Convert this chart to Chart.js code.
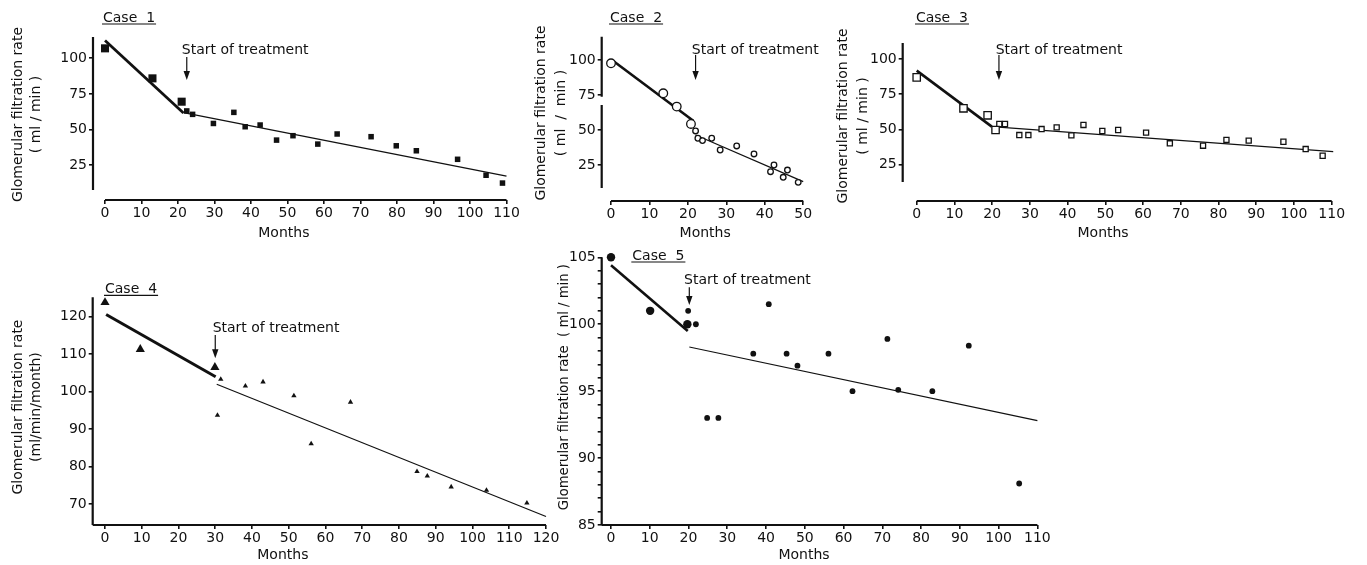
<!DOCTYPE html>
<html>
<head>
<meta charset="utf-8">
<script src="https://cdn.jsdelivr.net/npm/chart.js@4.4.1/dist/chart.umd.min.js"></script>
<style>
  html, body { margin: 0; padding: 0; background: #fff; }
  body { width: 1367px; height: 565px; position: relative; overflow: hidden; }
  canvas { position: absolute; }
</style>
</head>
<body>
<canvas id="case1"></canvas>
<canvas id="case2"></canvas>
<canvas id="case3"></canvas>
<canvas id="case4"></canvas>
<canvas id="case5"></canvas>
<script>
const ink = '#111111';
Chart.defaults.font.family = '"DejaVu Sans", sans-serif';
Chart.defaults.font.size = 14;
Chart.defaults.color = ink;

// ---- Case 1 ----
const case1PreMonths = [0, 13.0, 21.0];
const case1PreGfr = [107, 85.9, 69.5];
const case1PostMonths = [22.4, 24.0, 29.7, 35.3, 38.4, 42.5, 47.0, 51.5, 58.3, 63.6, 72.9, 79.8, 85.3, 96.6, 104.4, 108.9];
const case1PostGfr = [63.0, 60.6, 54.2, 62.0, 51.9, 53.1, 42.5, 45.6, 39.7, 46.8, 44.9, 38.5, 35.0, 29.0, 17.8, 12.3];
const case1TrendPreMonths = [0, 21.5];
const case1TrendPreGfr = [112.5, 61.5];
const case1TrendPostMonths = [21.5, 110];
const case1TrendPostGfr = [61.8, 17.2];

// ---- Case 2 ----
const case2PreMonths = [0, 13.6, 17.1, 20.8];
const case2PreGfr = [97.6, 76.2, 66.7, 54.3];
const case2PostMonths = [22.0, 22.6, 23.8, 26.2, 28.4, 32.7, 37.2, 41.5, 42.4, 44.8, 45.9, 48.7];
const case2PostGfr = [49.3, 44.1, 42.4, 44.1, 35.7, 38.6, 32.9, 20.2, 25.0, 16.2, 21.4, 12.6];
const case2TrendPreMonths = [0.6, 21.4];
const case2TrendPreGfr = [99.3, 56.6];
const case2TrendPostMonths = [22.0, 50];
const case2TrendPostGfr = [46.4, 13.1];

// ---- Case 3 ----
const case3PreMonths = [0, 12.4, 18.8, 20.9];
const case3PreGfr = [87.1, 65.0, 60.0, 49.5];
const case3PostMonths = [21.9, 23.4, 27.2, 29.6, 33.1, 37.1, 41.0, 44.2, 49.2, 53.4, 60.8, 67.1, 75.9, 82.1, 88.0, 97.2, 103.1, 107.6];
const case3PostGfr = [53.8, 53.8, 45.9, 45.9, 50.2, 51.4, 45.7, 53.1, 48.8, 49.5, 47.6, 40.0, 38.3, 42.4, 41.9, 41.1, 35.9, 31.1];
const case3TrendPreMonths = [0, 19.9];
const case3TrendPreGfr = [91.9, 51.9];
const case3TrendPostMonths = [19.9, 110.4];
const case3TrendPostGfr = [51.9, 34.0];

// ---- Case 4 ----
const case4PreMonths = [0, 9.6, 29.9];
const case4PreGfr = [123.8, 111.3, 106.5];
const case4PostMonths = [31.5, 30.6, 38.2, 43.0, 51.4, 56.1, 66.8, 84.9, 87.7, 94.2, 103.8, 114.8];
const case4PostGfr = [103.3, 93.7, 101.5, 102.6, 98.9, 86.1, 97.2, 78.7, 77.5, 74.6, 73.7, 70.3];
const case4TrendPreMonths = [0.3, 30.1];
const case4TrendPreGfr = [120.6, 104.0];
const case4TrendPostMonths = [30.4, 120];
const case4TrendPostGfr = [102.0, 66.7];

// ---- Case 5 ----
const case5PreMonths = [0, 10.1, 19.7];
const case5PreGfr = [105, 101, 100];
const case5PostMonths = [19.9, 21.9, 24.8, 27.7, 36.7, 40.7, 45.3, 48.1, 56.1, 62.3, 71.3, 74.1, 82.9, 92.3, 105.3];
const case5PostGfr = [101, 100, 93, 93, 97.8, 101.5, 97.8, 96.9, 97.8, 95, 98.9, 95.1, 95, 98.4, 88.1];
const case5TrendPreMonths = [0, 19.8];
const case5TrendPreGfr = [104.4, 99.5];
const case5TrendPostMonths = [20.2, 110];
const case5TrendPostGfr = [98.3, 92.8];

// ---- ticks ----
const monthTicks110 = [0, 10, 20, 30, 40, 50, 60, 70, 80, 90, 100, 110];
const monthTicks50 = [0, 10, 20, 30, 40, 50];
const monthTicks120 = [0, 10, 20, 30, 40, 50, 60, 70, 80, 90, 100, 110, 120];
const gfrTicks25 = [25, 50, 75, 100];
const gfrTicks4 = [70, 80, 90, 100, 110, 120];
const gfrTicks5 = [85, 86, 87, 88, 89, 90, 91, 92, 93, 94, 95, 96, 97, 98, 99, 100, 101, 102, 103, 104, 105];
const gfrLabels5 = [85, 90, 95, 100, 105];

function pts(xs, ys) { return xs.map((x, i) => ({ x: x, y: ys[i] })); }

function marks(xs, ys, style, r, hollow) {
  return {
    data: pts(xs, ys), pointStyle: style, pointRadius: r,
    backgroundColor: hollow ? '#ffffff' : ink, borderColor: ink,
    borderWidth: hollow ? 1.3 : 0, clip: false
  };
}
function trend(xs, ys, w) {
  return { data: pts(xs, ys), showLine: true, pointRadius: 0, borderColor: ink, borderWidth: w, clip: false };
}

// axis lines, case label, treatment arrow and axis titles
function makeDeco(n) {
  return {
    id: 'deco',
    afterDraw(chart) {
      const { ctx, chartArea: a, scales: { x, y } } = chart;
      ctx.save();
      ctx.strokeStyle = ink;
      ctx.fillStyle = ink;
      ctx.lineWidth = 2.2;
      ctx.beginPath();
      ctx.moveTo(x.getPixelForValue(n.xAxis[0]), a.bottom);
      ctx.lineTo(x.getPixelForValue(n.xAxis[1]), a.bottom);
      n.yAxis.forEach(s => {
        ctx.moveTo(a.left, y.getPixelForValue(s[0]));
        ctx.lineTo(a.left, y.getPixelForValue(s[1]));
      });
      ctx.stroke();

      ctx.font = '14px "DejaVu Sans", sans-serif';
      ctx.textBaseline = 'middle';
      // case label
      const cx = x.getPixelForValue(n.caseX), cy = a.top + n.caseDy;
      ctx.textAlign = 'left';
      ctx.fillText(n.caseText, cx, cy);
      const cw = ctx.measureText(n.caseText).width;
      ctx.lineWidth = 1.2;
      ctx.beginPath();
      ctx.moveTo(cx - 1, cy + 6);
      ctx.lineTo(cx + cw + 1, cy + 6);
      ctx.stroke();

      // start of treatment
      const tx = x.getPixelForValue(n.treatX);
      ctx.fillText('Start of treatment', tx - n.textDx, y.getPixelForValue(n.treatTextY));
      const ay0 = y.getPixelForValue(n.arrow[0]), ay1 = y.getPixelForValue(n.arrow[1]);
      ctx.beginPath();
      ctx.moveTo(tx, ay0);
      ctx.lineTo(tx, ay1 - 6);
      ctx.stroke();
      ctx.beginPath();
      ctx.moveTo(tx - 3.2, ay1 - 9);
      ctx.lineTo(tx + 3.2, ay1 - 9);
      ctx.lineTo(tx, ay1);
      ctx.closePath();
      ctx.fill();

      // x title
      ctx.textAlign = 'center';
      ctx.fillText('Months', x.getPixelForValue(n.monthsX), a.bottom + n.monthsDy);

      // y title
      ctx.font = (n.yTitleSize || 14) + 'px "DejaVu Sans", sans-serif';
      const yc = y.getPixelForValue(n.yTitleAt);
      n.yTitle.forEach((t, i) => {
        ctx.save();
        ctx.translate(a.left - n.yTitleDx[i], yc);
        ctx.rotate(-Math.PI / 2);
        ctx.fillText(t, 0, 0);
        ctx.restore();
      });
      ctx.restore();
    }
  };
}

function panel(id, box, area, xRange, yRange, xTicks, yTicks, yLabels, datasets, notes) {
  const cv = document.getElementById(id);
  cv.width = box.w;
  cv.height = box.h;
  cv.style.left = box.x + 'px';
  cv.style.top = box.y + 'px';
  const yW = area.L - box.x;
  const xH = box.y + box.h - area.B;
  const gridOpts = { drawOnChartArea: false, drawTicks: true, tickLength: 4, lineWidth: 1.6, color: ink };
  new Chart(cv, {
    type: 'scatter',
    data: { datasets: datasets },
    options: {
      responsive: false,
      animation: false,
      events: [],
      layout: { padding: { left: 0, top: area.T - box.y, right: box.x + box.w - area.R, bottom: 0 } },
      plugins: { legend: { display: false }, tooltip: { enabled: false } },
      scales: {
        x: {
          type: 'linear', min: xRange[0], max: xRange[1],
          afterFit: s => { s.height = xH; },
          afterBuildTicks: s => { s.ticks = xTicks.map(v => ({ value: v })); },
          ticks: { autoSkip: false, maxRotation: 0, padding: 1 },
          grid: gridOpts,
          border: { display: false }
        },
        y: {
          type: 'linear', min: yRange[0], max: yRange[1],
          afterFit: s => { s.width = yW; },
          afterBuildTicks: s => { s.ticks = yTicks.map(v => ({ value: v })); },
          ticks: {
            autoSkip: false, padding: 2,
            callback: v => (yLabels.includes(v) ? String(v) : '')
          },
          grid: gridOpts,
          border: { display: false }
        }
      }
    },
    plugins: [makeDeco(notes)]
  });
}

panel('case1',
  { x: 0, y: 0, w: 532, h: 245 }, { L: 93, T: 37, R: 506.5, B: 200 },
  [-3.29, 110], [0.4, 114.97], monthTicks110, gfrTicks25, gfrTicks25,
  [
    marks(case1PreMonths, case1PreGfr, 'rect', 5.7, false),
    marks(case1PostMonths, case1PostGfr, 'rect', 3.9, false),
    trend(case1TrendPreMonths, case1TrendPreGfr, 2.8),
    trend(case1TrendPostMonths, case1TrendPostGfr, 1.3)
  ],
  { xAxis: [0, 110], yAxis: [[114.97, 7.4]], caseText: 'Case  1', caseX: -0.55, caseDy: -19,
    treatX: 22.4, textDx: 5, treatTextY: 105.8, arrow: [100.9, 84.7], monthsX: 49, monthsDy: 33,
    yTitle: ['Glomerular filtration rate', '( ml / min )'], yTitleDx: [74.7, 56.3], yTitleAt: 60.5 });

panel('case2',
  { x: 532, y: 0, w: 296, h: 246 }, { L: 601.7, T: 36.7, R: 803.2, B: 201 },
  [-2.42, 50], [-0.71, 116.6], monthTicks50, gfrTicks25, gfrTicks25,
  [
    marks(case2PreMonths, case2PreGfr, 'circle', 4.3, true),
    marks(case2PostMonths, case2PostGfr, 'circle', 2.8, true),
    trend(case2TrendPreMonths, case2TrendPreGfr, 2.6),
    trend(case2TrendPostMonths, case2TrendPostGfr, 1.3)
  ],
  { xAxis: [0, 50], yAxis: [[116.6, 73.8], [67.9, 8.6]], caseText: 'Case  2', caseX: -0.26, caseDy: -18.7,
    treatX: 22.0, textDx: 3.7, treatTextY: 107.1, arrow: [103.6, 85.7], monthsX: 24.5, monthsDy: 32,
    yTitle: ['Glomerular filtration rate', '( ml  /  min )'], yTitleDx: [60, 40], yTitleAt: 62.1 });

panel('case3',
  { x: 832, y: 0, w: 525, h: 246 }, { L: 902.7, T: 43, R: 1331.7, B: 201 },
  [-3.71, 110], [-1.21, 111.64], monthTicks110, gfrTicks25, gfrTicks25,
  [
    marks(case3PreMonths, case3PreGfr, 'rect', 5.2, true),
    marks(case3PostMonths, case3PostGfr, 'rect', 3.6, true),
    trend(case3TrendPreMonths, case3TrendPreGfr, 2.6),
    trend(case3TrendPostMonths, case3TrendPostGfr, 1.3)
  ],
  { xAxis: [0, 110], yAxis: [[111.64, 12.4]], caseText: 'Case  3', caseX: -0.2, caseDy: -25,
    treatX: 21.8, textDx: 3.3, treatTextY: 106.6, arrow: [103.1, 85.2], monthsX: 49.4, monthsDy: 32,
    yTitle: ['Glomerular filtration rate', '( ml / min )'], yTitleDx: [59.4, 39.4], yTitleAt: 59.5 });

panel('case4',
  { x: 0, y: 270, w: 571, h: 295 }, { L: 92.7, T: 297.3, R: 546, B: 525 },
  [-3.35, 120], [64.45, 125.17], monthTicks120, gfrTicks4, gfrTicks4,
  [
    marks(case4PreMonths, case4PreGfr, 'triangle', 5.3, false),
    marks(case4PostMonths, case4PostGfr, 'triangle', 3.1, false),
    trend(case4TrendPreMonths, case4TrendPreGfr, 3),
    trend(case4TrendPostMonths, case4TrendPostGfr, 1.2)
  ],
  { xAxis: [-3.35, 120], yAxis: [[125.17, 64.45]], caseText: 'Case  4', caseX: 0, caseDy: -8,
    treatX: 30.0, textDx: 2.6, treatTextY: 116.9, arrow: [115.1, 108.9], monthsX: 48.4, monthsDy: 30,
    yTitle: ['Glomerular filtration rate', '(ml/min/month)'], yTitleDx: [74.4, 56], yTitleAt: 95.9 });

panel('case5',
  { x: 545, y: 240, w: 518, h: 325 }, { L: 601.7, T: 257.3, R: 1037.4, B: 525 },
  [-2.4, 110], [85, 105], monthTicks110, gfrTicks5, gfrLabels5,
  [
    marks(case5PreMonths, case5PreGfr, 'circle', 4.2, false),
    marks(case5PostMonths, case5PostGfr, 'circle', 2.9, false),
    trend(case5TrendPreMonths, case5TrendPreGfr, 2.6),
    trend(case5TrendPostMonths, case5TrendPostGfr, 1.2)
  ],
  { xAxis: [-2.4, 110], yAxis: [[105, 85]], caseText: 'Case  5', caseX: 5.5, caseDy: -1.3,
    treatX: 20.2, textDx: 5.3, treatTextY: 103.25, arrow: [102.76, 101.44], monthsX: 49.8, monthsDy: 30,
    yTitle: ['Glomerular filtration rate  ( ml / min )'], yTitleDx: [36.7], yTitleAt: 95.3, yTitleSize: 13.2 });
</script>
</body>
</html>
